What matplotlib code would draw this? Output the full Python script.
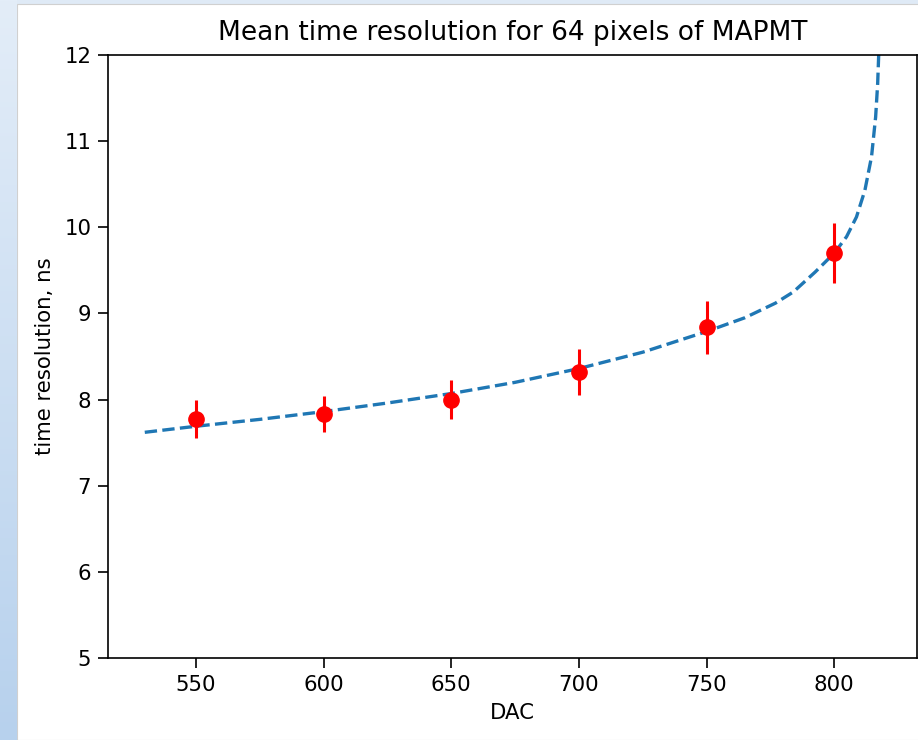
## Mean time resolution vs DAC threshold for MAPMT (64 pixels)
import numpy as np
import matplotlib
matplotlib.use('Agg')
import matplotlib.pyplot as plt
from matplotlib.patches import Rectangle

# measured points
dac = [550, 600, 650, 700, 750, 800]
tres = [7.77, 7.83, 8.00, 8.32, 8.84, 9.70]
terr = [0.22, 0.21, 0.23, 0.27, 0.31, 0.35]

# fitted curve
fit_dac = [530, 550, 575, 600, 625, 650, 675, 700, 725, 750, 765, 777, 784, 792.5,
           800, 804.8, 808.7, 812.0, 814.6, 816.2, 817.0, 817.4, 818]
fit_tres = [7.62, 7.69, 7.77, 7.86, 7.96, 8.07, 8.20, 8.36, 8.55, 8.79, 8.95, 9.12,
            9.25, 9.48, 9.70, 9.89, 10.12, 10.43, 10.82, 11.28, 11.67, 12.0, 13.0]

fig = plt.figure(figsize=(9.18, 7.40), dpi=100)
fig.patch.set_facecolor('#dfeaf6')

# screenshot frame: blue strip on the left, white page
strip = fig.add_axes([0, 0, 17/918, 1])
grad = np.linspace(0, 1, 256).reshape(-1, 1)
strip.imshow(grad, aspect='auto', cmap=matplotlib.colors.LinearSegmentedColormap.from_list(
    'strip', ['#e3edf8', '#b7d1ed']), extent=[0, 1, 0, 1])
strip.axis('off')
fig.patches.append(Rectangle((17/918, 0), 1, 736/740, transform=fig.transFigure,
                             facecolor='white', edgecolor='#d0d0d0', lw=0.8, zorder=-1))

ax = fig.add_axes([108/918, 82/740, 809/918, 603/740])
ax.set_zorder(2)

ax.plot(fit_dac, fit_tres, '--', color='#1f77b4', lw=2.4)
ax.errorbar(dac, tres, yerr=terr, fmt='o', color='red', ecolor='red',
            markersize=11, elinewidth=2.2, capsize=0)

ax.set_ylim(5, 12)
ax.set_xticks([550, 600, 650, 700, 750, 800])
ax.set_title('Mean time resolution for 64 pixels of MAPMT', fontsize=19, pad=11)
ax.set_xlabel('DAC', fontsize=15.3, labelpad=6)
ax.set_ylabel('time resolution, ns', fontsize=15.3, labelpad=7)
ax.tick_params(labelsize=15.3, length=7, width=1.2, pad=5)
for s in ax.spines.values():
    s.set_linewidth(1.2)

plt.savefig('out.png', dpi=100)
plt.close()
